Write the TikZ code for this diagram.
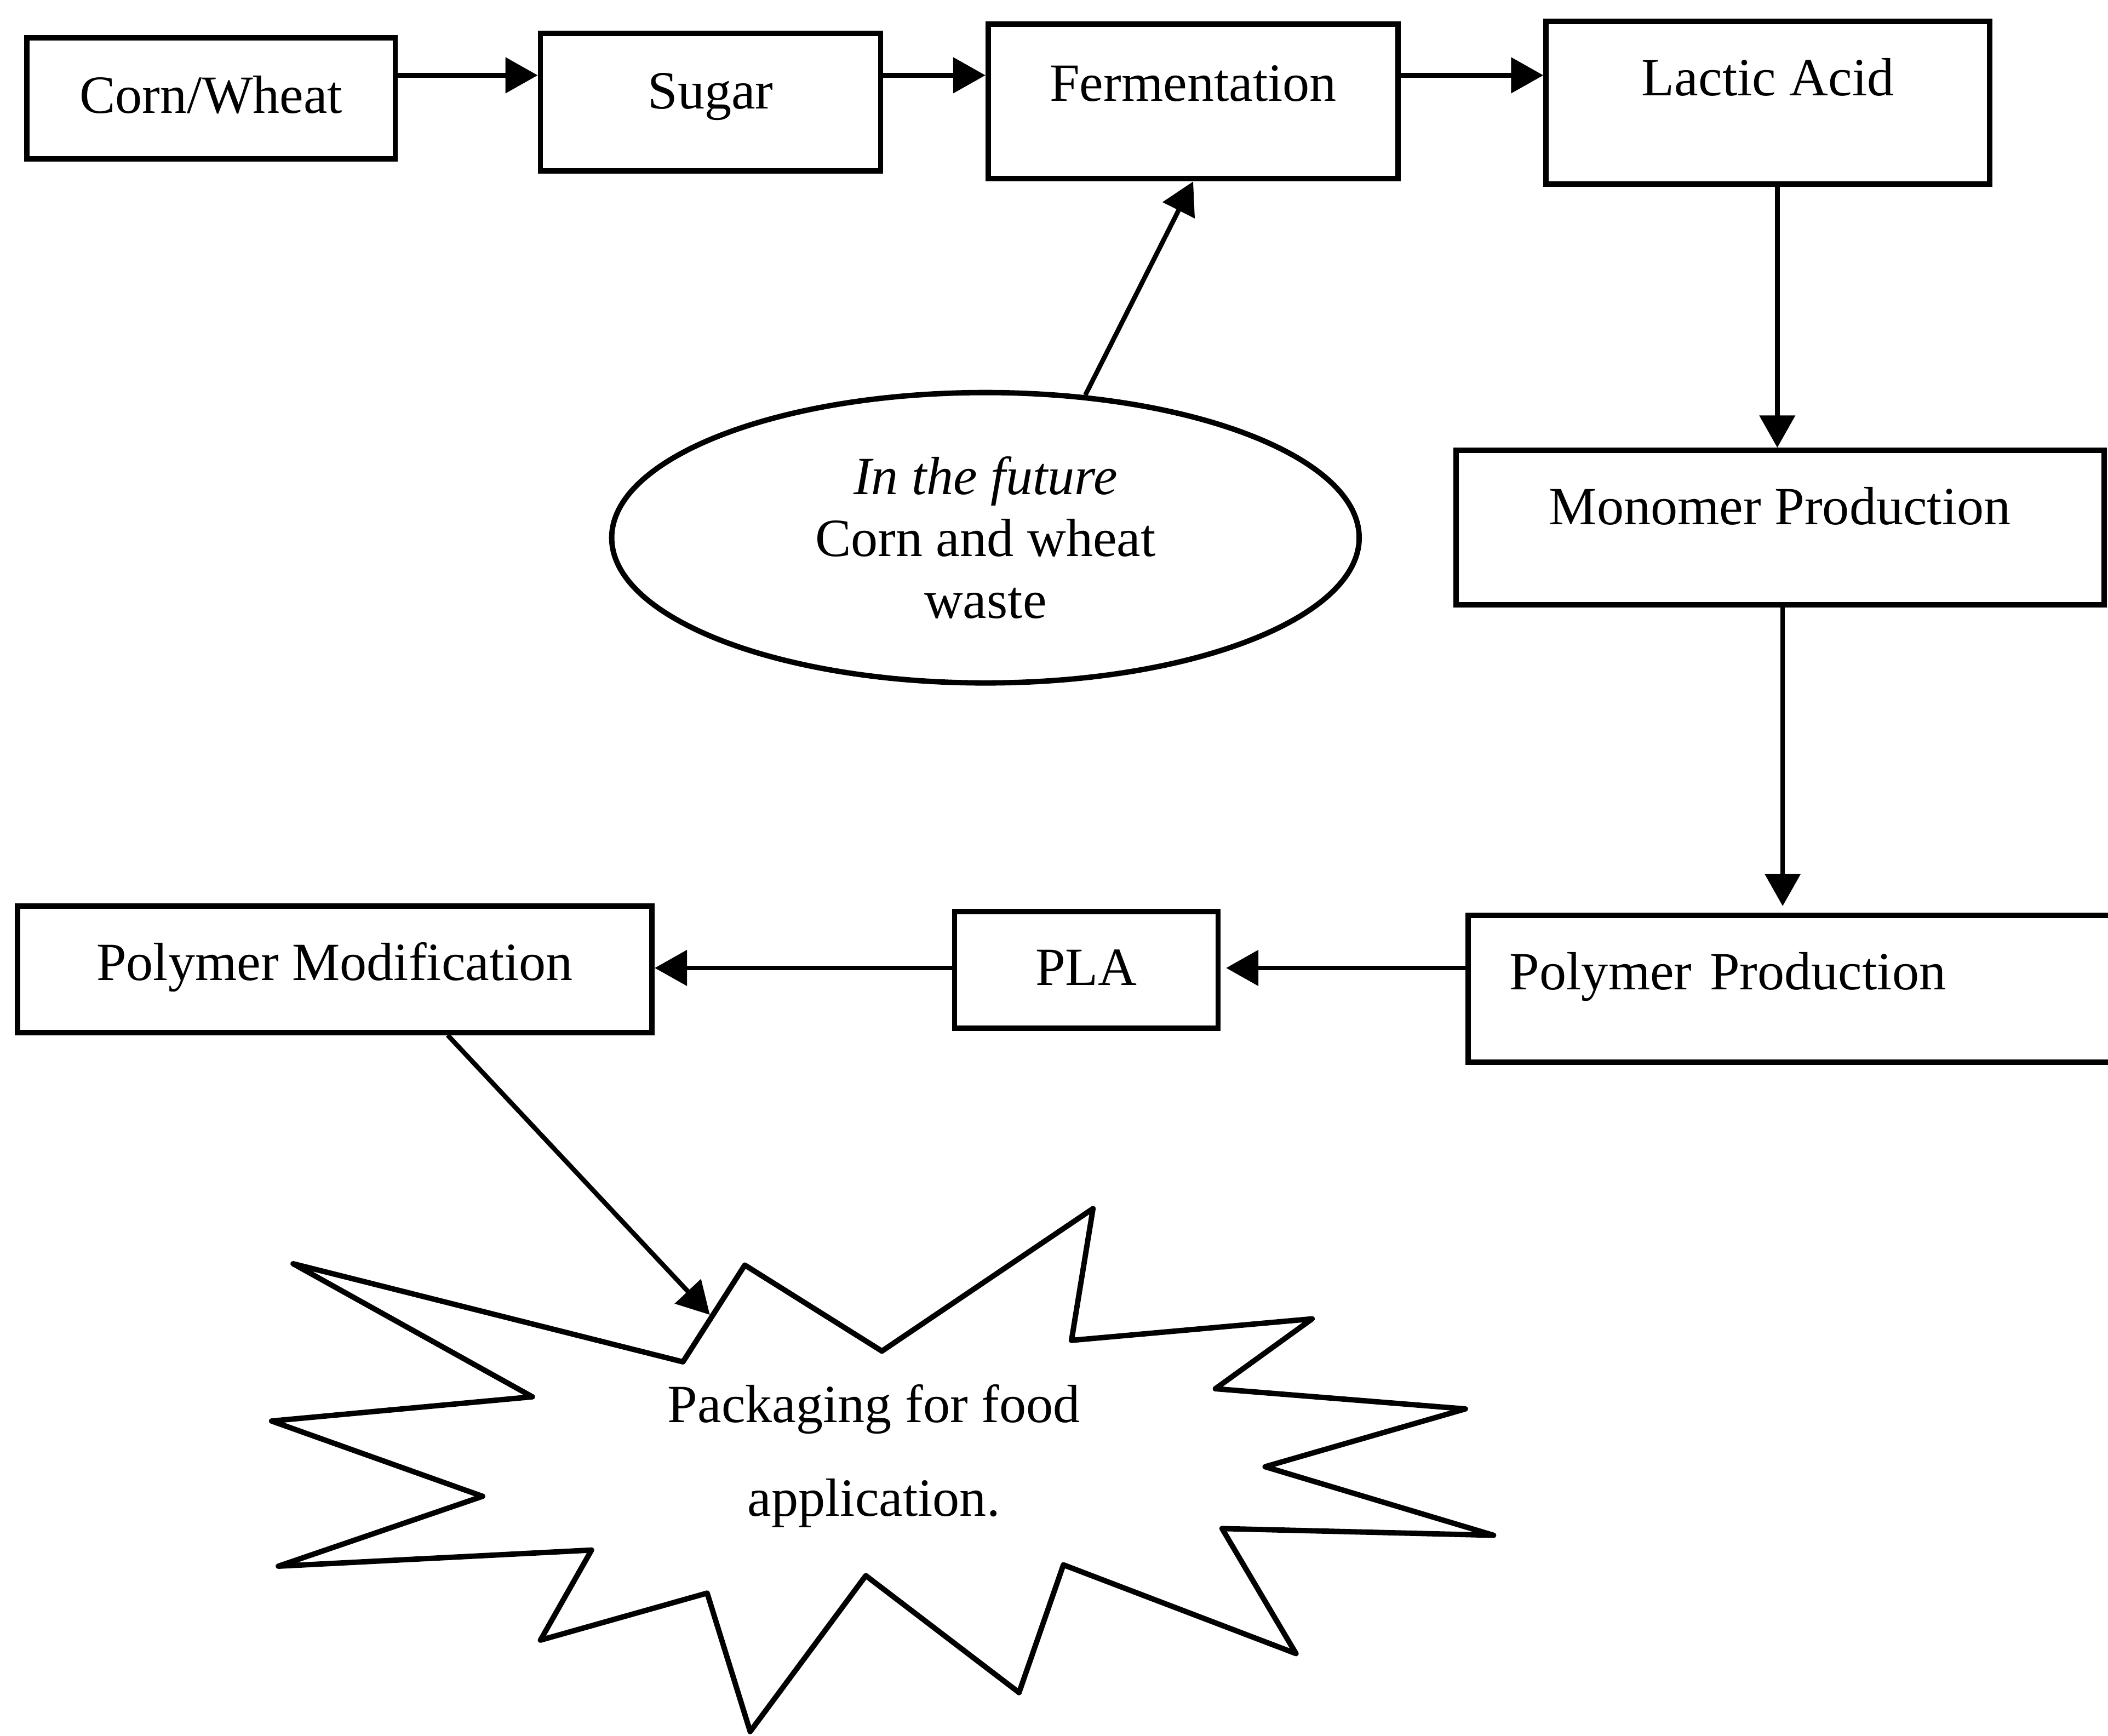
\documentclass[tikz,border=0pt]{standalone}
\usepackage{fontspec}
\setmainfont{Liberation Serif}
\usetikzlibrary{shapes.geometric,arrows.meta}

\begin{document}
\begin{tikzpicture}[x=1pt, y=-1pt,
  every node/.style={font=\fontsize{40}{46}\selectfont},
  box/.style={draw, line width=4pt, inner sep=0pt, align=center},
  arr/.style={line width=3.5pt, -{Triangle[length=24pt,width=26pt]}},
  burst/.style={draw, line width=4pt, line join=round}]
\useasboundingbox (0,0) rectangle (1568,1291);
\clip (0,0) rectangle (1568,1291);

% top row
\node[box, minimum width=274pt, minimum height=90pt, text height=56pt, text depth=34pt]
  (corn) at (157,73) {Corn/Wheat};
\node[box, minimum width=253pt, minimum height=102pt, text height=56pt, text depth=46pt]
  (sugar) at (528.5,76) {Sugar};
\node[box, minimum width=305pt, minimum height=115pt, text height=57pt, text depth=58pt]
  (ferm) at (887.5,75.5) {Fermentation};
\node[box, minimum width=330pt, minimum height=121pt, text height=55pt, text depth=66pt]
  (lactic) at (1315,76.5) {Lactic Acid};

% right column
\node[box, minimum width=482pt, minimum height=115pt, text height=55pt, text depth=60pt]
  (mono) at (1324,392.5) {Monomer Production};
\node[box, align=left, inner xsep=31pt, text width=426pt, minimum height=109pt, text height=55pt, text depth=54pt]
  (polyprod) at (1336,735.5) {Polymer Production};

% bottom row
\node[box, minimum width=196pt, minimum height=87pt, text height=55pt, text depth=32pt]
  (pla) at (808,721.5) {PLA};
\node[box, minimum width=472pt, minimum height=94pt, text height=55pt, text depth=39pt]
  (polymod) at (249,721) {Polymer Modification};

% future feedstock
\node[ellipse, draw, line width=4pt, inner sep=0pt, align=center,
  minimum width=556pt, minimum height=216pt]
  (future) at (733,400) {\textit{In the future}\\Corn and wheat\\waste};

% packaging starburst
\draw[burst] (218,940) -- (508,1013) -- (554,941) -- (656,1005) -- (813,899)
  -- (797,997) -- (976,981) -- (904,1033) -- (1090,1048) -- (941,1091)
  -- (1111,1142) -- (909,1137) -- (964,1230) -- (791,1164) -- (758,1259)
  -- (644,1172) -- (558,1288) -- (526,1185) -- (402,1220) -- (440,1153)
  -- (207,1165) -- (359,1113) -- (202,1057) -- (396,1039) -- cycle;
\node[align=center, font=\fontsize{40}{70}\selectfont] (pack) at (650,1083)
  {Packaging for food\\application.};
\coordinate (packin) at (528,978);

% connectors
\coordinate (r1) at (0,56);
\coordinate (r2) at (0,720);
\coordinate (c1) at (1322,0);
\coordinate (c2) at (1326,0);
\coordinate (c3) at (333,0);
\draw[arr] (corn.east |- r1) -- (sugar.west |- r1);
\draw[arr] (sugar.east |- r1) -- (ferm.west |- r1);
\draw[arr] (ferm.east |- r1) -- (lactic.west |- r1);
\draw[arr] (future.55) -- (ferm.south);
\draw[arr] (lactic.south -| c1) -- (mono.north -| c1);
\draw[arr, shorten >=5pt] (mono.south -| c2) -- (polyprod.north -| c2);
\draw[arr, shorten >=4pt] (polyprod.west |- r2) -- (pla.east |- r2);
\draw[arr] (pla.west |- r2) -- (polymod.east |- r2);
\draw[arr] (polymod.south -| c3) -- (packin);
\end{tikzpicture}
\end{document}
